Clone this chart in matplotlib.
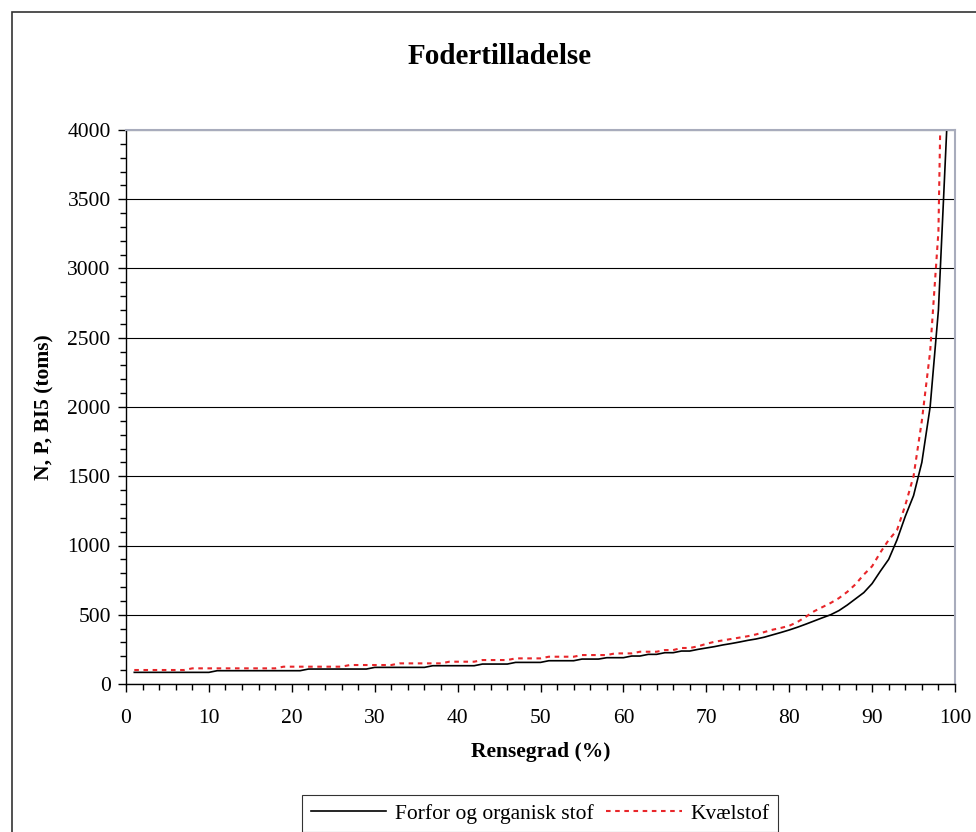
import numpy as np
import matplotlib.pyplot as plt
from matplotlib.lines import Line2D
from matplotlib.ticker import MultipleLocator

plt.rcParams['font.family'] = ['Liberation Serif', 'DejaVu Serif']

# rensegrad (%) 1..99
rensegrad = list(range(1, 100))

forfor_organisk = [
    84, 84, 84, 84, 84, 84, 84, 84, 84, 84,
    96, 96, 96, 96, 96, 96, 96, 96, 96, 96,
    96, 108, 108, 108, 108, 108, 108, 108, 108, 120,
    120, 120, 120, 120, 120, 120, 132, 132, 132, 132,
    132, 132, 144, 144, 144, 144, 156, 156, 156, 156,
    168, 168, 168, 168, 180, 180, 180, 190, 190, 190,
    202, 202, 214, 214, 226, 226, 238, 238, 250, 260,
    270, 282, 292, 303, 315, 325, 338, 355, 372, 390,
    410, 432, 455, 478, 500, 530, 570, 615, 660, 725,
    815, 900, 1040, 1210, 1360, 1600, 2000, 2700, 4000,
]

kvaelstof = [
    101, 101, 101, 101, 101, 101, 101, 113, 113, 113,
    113, 113, 113, 113, 113, 113, 113, 113, 125, 125,
    125, 125, 125, 125, 125, 125, 137, 137, 137, 137,
    137, 137, 149, 149, 149, 149, 149, 149, 161, 161,
    161, 161, 173, 173, 173, 173, 185, 185, 185, 185,
    197, 197, 197, 197, 209, 209, 209, 209, 221, 221,
    221, 233, 233, 233, 245, 245, 260, 260, 272, 290,
    305, 315, 325, 335, 345, 358, 375, 392, 405, 420,
    448, 485, 525, 555, 585, 620, 665, 720, 790, 850,
    950, 1040, 1110, 1290, 1500, 1900, 2400, 3266, 6700,
]

series_names = ['Forfor og organisk stof', 'Kvælstof']

fig = plt.figure(figsize=(9.76, 8.32), dpi=100)
ax = fig.add_axes([126 / 976, 1 - 684 / 832, (955 - 126) / 976, (684 - 130) / 832])

ax.plot(rensegrad, forfor_organisk, color='black', lw=1.2)
ax.plot(rensegrad, kvaelstof, color='#e8262a', lw=1.5, linestyle=(0, (2.2, 2.2)))

ax.set_xlim(0, 100)
ax.set_ylim(0, 4000)
ax.xaxis.set_major_locator(MultipleLocator(10))
ax.xaxis.set_minor_locator(MultipleLocator(2))
ax.yaxis.set_major_locator(MultipleLocator(500))
ax.yaxis.set_minor_locator(MultipleLocator(100))
ax.tick_params(axis='both', which='major', labelsize=15.5, length=6, width=1, color='black')
ax.tick_params(axis='both', which='minor', length=4, width=1, color='black')
ax.tick_params(axis='x', which='major', pad=12)
ax.tick_params(axis='y', which='major', pad=5)

ax.grid(axis='y', which='major', color='black', lw=0.8)
ax.set_axisbelow(True)
for side in ['top', 'right']:
    ax.spines[side].set_color('#a8acbc')
    ax.spines[side].set_linewidth(1.5)
for side in ['left', 'bottom']:
    ax.spines[side].set_color('black')
    ax.spines[side].set_linewidth(1)

ax.set_xlabel('Rensegrad (%)', fontsize=15.5, fontweight='bold', labelpad=10)
ax.set_ylabel('N, P, BI5 (toms)', fontsize=15.5, fontweight='bold', labelpad=9)
fig.text(500 / 976, 1 - 57 / 832, 'Fodertilladelse', fontsize=21, fontweight='bold',
         ha='center', va='center')

# outer chart frame (cut by image edge)
fig.add_artist(plt.Rectangle((12 / 976, -0.1), 1.2, 1 - 12 / 832 + 0.1,
                             transform=fig.transFigure, fill=False,
                             edgecolor='#333333', lw=1.2, clip_on=False))

handles = [Line2D([], [], color='black', lw=1.2),
           Line2D([], [], color='#e8262a', lw=1.5, linestyle=(0, (2.2, 2.2)))]
leg = fig.legend(handles, series_names, loc='upper center', ncol=2,
                 bbox_to_anchor=(540 / 976, 1 - 795 / 832), fontsize=15.5,
                 frameon=True, fancybox=False, edgecolor='black',
                 handlelength=3.5, columnspacing=0.6, handletextpad=0.4,
                 borderpad=0.4, borderaxespad=0)
leg.get_frame().set_linewidth(0.8)

fig.savefig('out.png', dpi=100)
